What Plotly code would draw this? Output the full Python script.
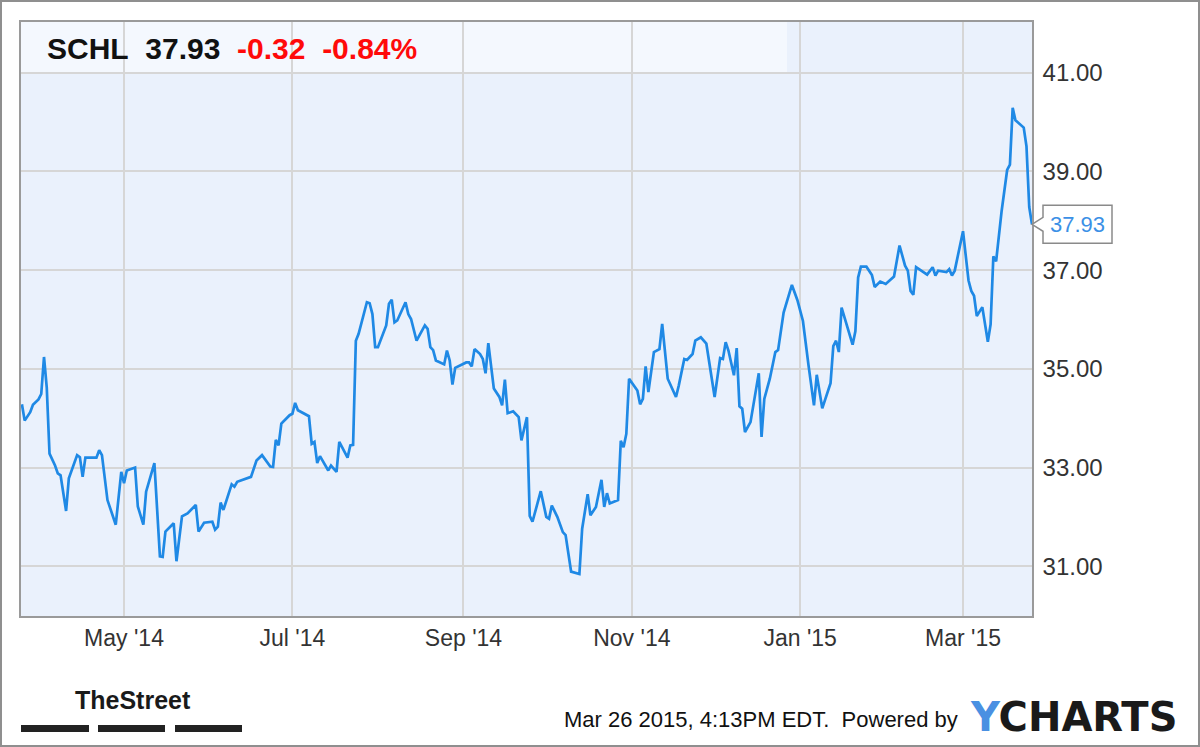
import plotly.graph_objects as go

# ---------------- data ----------------
dates = [
    "2014-03-25", "2014-03-26", "2014-03-28", "2014-03-29", "2014-03-31", "2014-04-01", "2014-04-02", "2014-04-03",
    "2014-04-04", "2014-04-06", "2014-04-07", "2014-04-08", "2014-04-10", "2014-04-11", "2014-04-14", "2014-04-15",
    "2014-04-16", "2014-04-17", "2014-04-21", "2014-04-22", "2014-04-23", "2014-04-25", "2014-04-28", "2014-04-30",
    "2014-05-01", "2014-05-02", "2014-05-05", "2014-05-06", "2014-05-08", "2014-05-09", "2014-05-12", "2014-05-14",
    "2014-05-15", "2014-05-16", "2014-05-19", "2014-05-20", "2014-05-22", "2014-05-24", "2014-05-27", "2014-05-28",
    "2014-05-30", "2014-06-02", "2014-06-03", "2014-06-04", "2014-06-05", "2014-06-06", "2014-06-09", "2014-06-10",
    "2014-06-11", "2014-06-16", "2014-06-18", "2014-06-20", "2014-06-23", "2014-06-24", "2014-06-25", "2014-06-26",
    "2014-06-27", "2014-06-30", "2014-07-01", "2014-07-02", "2014-07-03", "2014-07-07", "2014-07-08", "2014-07-09",
    "2014-07-10", "2014-07-11", "2014-07-14", "2014-07-15", "2014-07-17", "2014-07-18", "2014-07-21", "2014-07-22",
    "2014-07-23", "2014-07-24", "2014-07-25", "2014-07-28", "2014-07-29", "2014-07-30", "2014-07-31", "2014-08-01",
    "2014-08-04", "2014-08-05", "2014-08-06", "2014-08-07", "2014-08-08", "2014-08-11", "2014-08-12", "2014-08-13",
    "2014-08-15", "2014-08-18", "2014-08-19", "2014-08-20", "2014-08-21", "2014-08-22", "2014-08-25", "2014-08-26",
    "2014-08-27", "2014-08-28", "2014-08-29", "2014-09-02", "2014-09-03", "2014-09-04", "2014-09-05", "2014-09-07",
    "2014-09-08", "2014-09-09", "2014-09-10", "2014-09-12", "2014-09-14", "2014-09-15", "2014-09-16", "2014-09-17",
    "2014-09-19", "2014-09-21", "2014-09-22", "2014-09-24", "2014-09-25", "2014-09-26", "2014-09-29", "2014-10-01",
    "2014-10-02", "2014-10-03", "2014-10-05", "2014-10-07", "2014-10-08", "2014-10-10", "2014-10-13", "2014-10-14",
    "2014-10-16", "2014-10-17", "2014-10-19", "2014-10-21", "2014-10-22", "2014-10-23", "2014-10-24", "2014-10-27",
    "2014-10-28", "2014-10-29", "2014-10-30", "2014-10-31", "2014-11-03", "2014-11-04", "2014-11-05", "2014-11-06",
    "2014-11-07", "2014-11-09", "2014-11-11", "2014-11-12", "2014-11-14", "2014-11-17", "2014-11-18", "2014-11-20",
    "2014-11-21", "2014-11-23", "2014-11-24", "2014-11-26", "2014-11-28", "2014-12-01", "2014-12-03", "2014-12-04",
    "2014-12-05", "2014-12-06", "2014-12-08", "2014-12-09", "2014-12-10", "2014-12-11", "2014-12-12", "2014-12-14",
    "2014-12-17", "2014-12-18", "2014-12-19", "2014-12-21", "2014-12-23", "2014-12-24", "2014-12-26", "2014-12-29",
    "2014-12-31", "2015-01-02", "2015-01-04", "2015-01-06", "2015-01-07", "2015-01-09", "2015-01-12", "2015-01-13",
    "2015-01-14", "2015-01-15", "2015-01-16", "2015-01-20", "2015-01-21", "2015-01-22", "2015-01-23", "2015-01-25",
    "2015-01-27", "2015-01-28", "2015-01-30", "2015-02-01", "2015-02-04", "2015-02-06", "2015-02-08", "2015-02-09",
    "2015-02-10", "2015-02-11", "2015-02-12", "2015-02-16", "2015-02-18", "2015-02-19", "2015-02-20", "2015-02-23",
    "2015-02-24", "2015-02-25", "2015-02-26", "2015-03-01", "2015-03-03", "2015-03-04", "2015-03-05", "2015-03-06",
    "2015-03-08", "2015-03-10", "2015-03-11", "2015-03-12", "2015-03-13", "2015-03-15", "2015-03-17", "2015-03-18",
    "2015-03-19", "2015-03-20", "2015-03-23", "2015-03-24", "2015-03-25", "2015-03-26",
]
prices = [
    34.28, 33.95, 34.12, 34.27, 34.38, 34.49, 35.24, 34.62,
    33.28, 33.04, 32.88, 32.84, 32.12, 32.78, 33.25, 33.21,
    32.81, 33.20, 33.20, 33.35, 33.25, 32.34, 31.84, 32.91,
    32.68, 32.94, 33.00, 32.21, 31.84, 32.51, 33.09, 31.20,
    31.19, 31.70, 31.87, 31.10, 32.01, 32.07, 32.24, 31.70,
    31.88, 31.90, 31.74, 31.80, 32.29, 32.14, 32.66, 32.61,
    32.71, 32.81, 33.14, 33.25, 33.02, 33.01, 33.56, 33.45,
    33.89, 34.06, 34.09, 34.31, 34.16, 34.04, 33.48, 33.52,
    33.09, 33.23, 32.94, 33.04, 32.91, 33.52, 33.20, 33.45,
    33.46, 35.57, 35.71, 36.35, 36.33, 36.11, 35.44, 35.44,
    35.88, 36.32, 36.40, 35.94, 35.98, 36.35, 36.11, 36.01,
    35.57, 35.88, 35.81, 35.44, 35.38, 35.17, 35.09, 35.37,
    35.17, 34.68, 35.02, 35.13, 35.13, 35.05, 35.40, 35.30,
    35.20, 34.91, 35.52, 34.60, 34.43, 34.26, 34.78, 34.10,
    34.14, 34.02, 33.55, 34.02, 32.02, 31.90, 32.52, 32.00,
    31.96, 32.23, 32.00, 31.69, 31.63, 30.89, 30.84, 31.76,
    32.46, 32.03, 32.20, 32.75, 32.20, 32.48, 32.27, 32.34,
    33.54, 33.41, 33.68, 34.80, 34.56, 34.28, 34.39, 35.05,
    34.53, 35.34, 35.40, 35.91, 34.80, 34.43, 34.66, 35.20,
    35.18, 35.30, 35.57, 35.64, 35.51, 34.43, 35.22, 35.20,
    35.54, 35.37, 34.87, 35.42, 34.24, 34.19, 33.72, 33.92,
    34.91, 33.62, 34.39, 34.80, 35.34, 35.38, 36.14, 36.70,
    36.39, 35.97, 35.08, 34.26, 34.88, 34.20, 34.71, 35.46,
    35.57, 35.34, 36.24, 35.49, 35.76, 36.85, 37.07, 37.07,
    36.90, 36.66, 36.77, 36.72, 36.87, 37.50, 37.09, 36.99,
    36.58, 36.50, 37.06, 36.91, 37.06, 36.89, 36.99, 36.96,
    37.02, 36.89, 36.99, 37.79, 36.79, 36.58, 36.48, 36.07,
    36.25, 35.55, 35.90, 37.28, 37.18, 38.20, 39.03, 39.14,
    40.29, 40.04, 39.89, 39.51, 38.28, 37.93,
]

x_tick_vals = ["2014-05-01", "2014-07-01", "2014-09-01", "2014-11-01", "2015-01-01", "2015-03-01"]
x_tick_text = ["May '14", "Jul '14", "Sep '14", "Nov '14", "Jan '15", "Mar '15"]
y_tick_vals = [31, 33, 35, 37, 39, 41]
y_tick_text = ["31.00", "33.00", "35.00", "37.00", "39.00", "41.00"]

ticker = "SCHL"
last_price = "37.93"
change = "-0.32"
change_pct = "-0.84%"
footer_text = "Mar 26 2015, 4:13PM EDT.\u00a0 Powered by"

# ---------------- styling ----------------
W, H = 1200, 747
ML, MR, MT, MB = 21, 168, 22, 131
PW, PH = W - ML - MR, H - MT - MB
LINE_BLUE = "#1f89e5"
FONT = "Liberation Sans, Arial, Helvetica, sans-serif"


def px_x(p):  # pixel -> paper x
    return (p - ML) / PW


def px_y(p):  # pixel -> paper y
    return (H - MB - p) / PH


fig = go.Figure()
fig.add_trace(go.Scatter(
    x=dates, y=prices, mode="lines",
    line=dict(color=LINE_BLUE, width=2.7),
    hoverinfo="skip", showlegend=False,
))

shapes = []
# header band
shapes.append(dict(type="rect", xref="paper", yref="paper", x0=0, x1=px_x(787), y0=px_y(72), y1=1,
                   fillcolor="rgba(250,252,255,0.62)", line=dict(width=0), layer="between"))

# last value callout
lv = prices[-1]
u = (42.03 - 29.99) / PH  # data units per pixel
bx0, bx1 = px_x(1043), px_x(1112)
path = (f"M 1,{lv} L {bx0},{lv + 7*u} L {bx0},{lv + 19*u} L {bx1},{lv + 19*u} "
        f"L {bx1},{lv - 19*u} L {bx0},{lv - 19*u} L {bx0},{lv - 7*u} Z")
shapes.append(dict(type="path", xref="paper", yref="y", path=path,
                   fillcolor="white", line=dict(color="#8a8a8a", width=1.5), layer="above"))

# TheStreet bars
for a, b in [(21, 89), (98, 165), (175, 242)]:
    shapes.append(dict(type="rect", xref="paper", yref="paper", x0=px_x(a), x1=px_x(b),
                       y0=px_y(732), y1=px_y(725), fillcolor="#222222", line=dict(width=0)))

# outer frame
shapes.append(dict(type="rect", xref="paper", yref="paper", x0=px_x(1), x1=px_x(1199),
                   y0=px_y(746), y1=px_y(1), fillcolor="rgba(0,0,0,0)",
                   line=dict(color="#8f8f8f", width=2)))

annotations = [
    dict(xref="paper", yref="paper", x=px_x(45), y=px_y(49), xanchor="left", yanchor="middle",
         showarrow=False,
         text=(f"<b>{ticker}\u00a0\u00a0{last_price}\u00a0\u00a0"
               f"<span style='color:#ff0a0a'>{change}\u00a0\u00a0{change_pct}</span></b>"),
         font=dict(family=FONT, size=30, color="#111111")),
    dict(xref="paper", yref="y", x=px_x(1077.5), y=lv, xanchor="center", yanchor="middle",
         showarrow=False, text=last_price,
         font=dict(family=FONT, size=22, color="#3b90e6")),
    dict(xref="paper", yref="paper", x=px_x(132.5), y=px_y(700), xanchor="center", yanchor="middle",
         showarrow=False, text="<b>TheStreet</b>",
         font=dict(family=FONT, size=25, color="#1a1a1a")),
    dict(xref="paper", yref="paper", x=px_x(960), y=px_y(719), xanchor="right", yanchor="middle",
         showarrow=False, text=footer_text,
         font=dict(family=FONT, size=22, color="#111111")),
    dict(xref="paper", yref="paper", x=px_x(968), y=px_y(717), xanchor="left", yanchor="middle",
         showarrow=False,
         text="<b><span style='color:#4a90e2'>Y</span>CHARTS</b>",
         font=dict(family="DejaVu Sans, Verdana, sans-serif", size=40, color="#1a1a1a")),
]

fig.update_layout(
    width=W, height=H,
    margin=dict(l=ML, r=MR, t=MT, b=MB, pad=0),
    paper_bgcolor="white",
    plot_bgcolor="#eaf1fc",
    showlegend=False,
    shapes=shapes,
    annotations=annotations,
    xaxis=dict(
        type="date",
        range=["2014-03-24 16:00", "2015-03-26 00:00"],
        tickvals=x_tick_vals, ticktext=x_tick_text,
        showgrid=True, gridcolor="#d6d6d6", gridwidth=1.5,
        showline=True, mirror=True, linecolor="#9a9a9a", linewidth=1.5,
        ticks="", ticklabelstandoff=1,
        tickfont=dict(family=FONT, size=23, color="#333333"),
        zeroline=False, fixedrange=True,
    ),
    yaxis=dict(
        range=[29.99, 42.03],
        side="right",
        tickvals=y_tick_vals, ticktext=y_tick_text,
        showgrid=True, gridcolor="#d6d6d6", gridwidth=1.5,
        showline=True, mirror=True, linecolor="#9a9a9a", linewidth=1.5,
        ticks="", ticklabelstandoff=4,
        tickfont=dict(family=FONT, size=24, color="#333333"),
        zeroline=False, fixedrange=True,
    ),
)

fig.write_html(
    "out.html",
    config={"displayModeBar": False},
    post_script="document.body.style.margin='0';document.body.style.overflow='hidden';",
)
